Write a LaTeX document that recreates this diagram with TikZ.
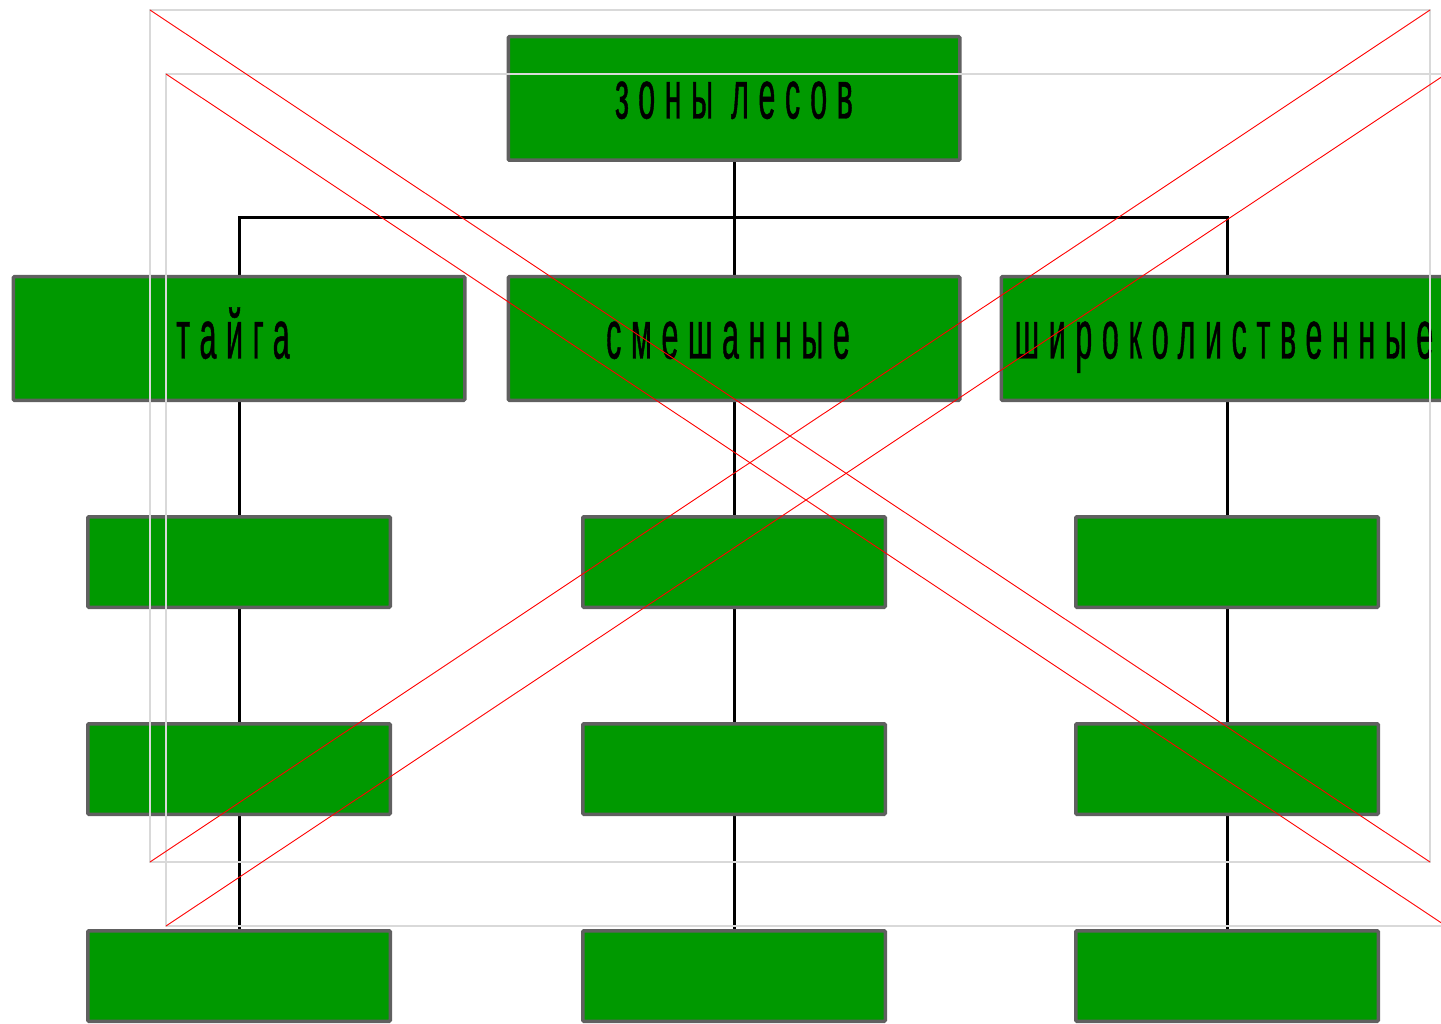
\documentclass[tikz,border=0pt]{standalone}
\usepackage{fontspec}
\usetikzlibrary{backgrounds}
\newfontfamily\boxfont[FakeStretch=0.44,LetterSpace=14,FakeBold=0.6]{Liberation Sans}
\definecolor{boxgreen}{HTML}{009900}
\definecolor{boxborder}{HTML}{606060}
\definecolor{framegray}{HTML}{D9D9D9}
\newcommand{\nudgeleft}[1]{\kern-#1pt\kern-#1pt}
\begin{document}
\begin{tikzpicture}[x=1pt,y=-1pt,
  box/.style={draw=boxborder,fill=boxgreen,line width=3.5pt,rounded corners=1pt,
    inner sep=0pt,text height=40pt,text depth=0pt,
    font=\fontsize{69}{80}\selectfont\boxfont},
  bigbox/.style={box,minimum width=451.5pt,minimum height=123.5pt},
  smallbox/.style={box,minimum width=302.5pt,minimum height=90.5pt},
  conn/.style={draw=black,line width=3pt},
  frame/.style={draw=framegray,line width=1.5pt},
  cross/.style={draw=red,line width=0.9pt}]
\useasboundingbox (0,0) rectangle (1441,1024);
\clip (0,0) rectangle (1441,1024);
% top
\node[bigbox] (top) at (734,98.5) {зоны лесов};
% level 2
\node[bigbox] (m1) at (239,338.5) {\nudgeleft{6}тайга};
\node[bigbox] (m2) at (734,338.5) {\nudgeleft{6}смешанные};
\node[bigbox] (m3) at (1227,338.5) {\nudgeleft{3}широколиственные};
% levels 3-5
\foreach \r/\y in {a/562,b/769,c/976}{
  \node[smallbox] (\r1) at (239,\y) {};
  \node[smallbox] (\r2) at (734,\y) {};
  \node[smallbox] (\r3) at (1227,\y) {};
}
\coordinate (bus) at (734,218);
\begin{pgfonlayer}{background}
\draw[conn] (top.south) -- (m2.north);
\draw[conn] (m1.north) |- (bus) -| (m3.north);
\draw[conn] (m1.south) -- (a1.north);
\draw[conn] (m2.south) -- (a2.north);
\draw[conn] (m3.south) -- (a3.north);
\foreach \i in {1,2,3}{
  \draw[conn] (a\i.south) -- (b\i.north);
  \draw[conn] (b\i.south) -- (c\i.north);
}
\end{pgfonlayer}
% overlay frames and crosses
\draw[frame] (150,10) rectangle (1430,862);
\draw[frame] (166,74) rectangle (1446,926);
\draw[cross] (150,10) -- (1430,862);
\draw[cross] (150,862) -- (1430,10);
\draw[cross] (166,74) -- (1446,926);
\draw[cross] (166,926) -- (1446,74);
\end{tikzpicture}
\end{document}
